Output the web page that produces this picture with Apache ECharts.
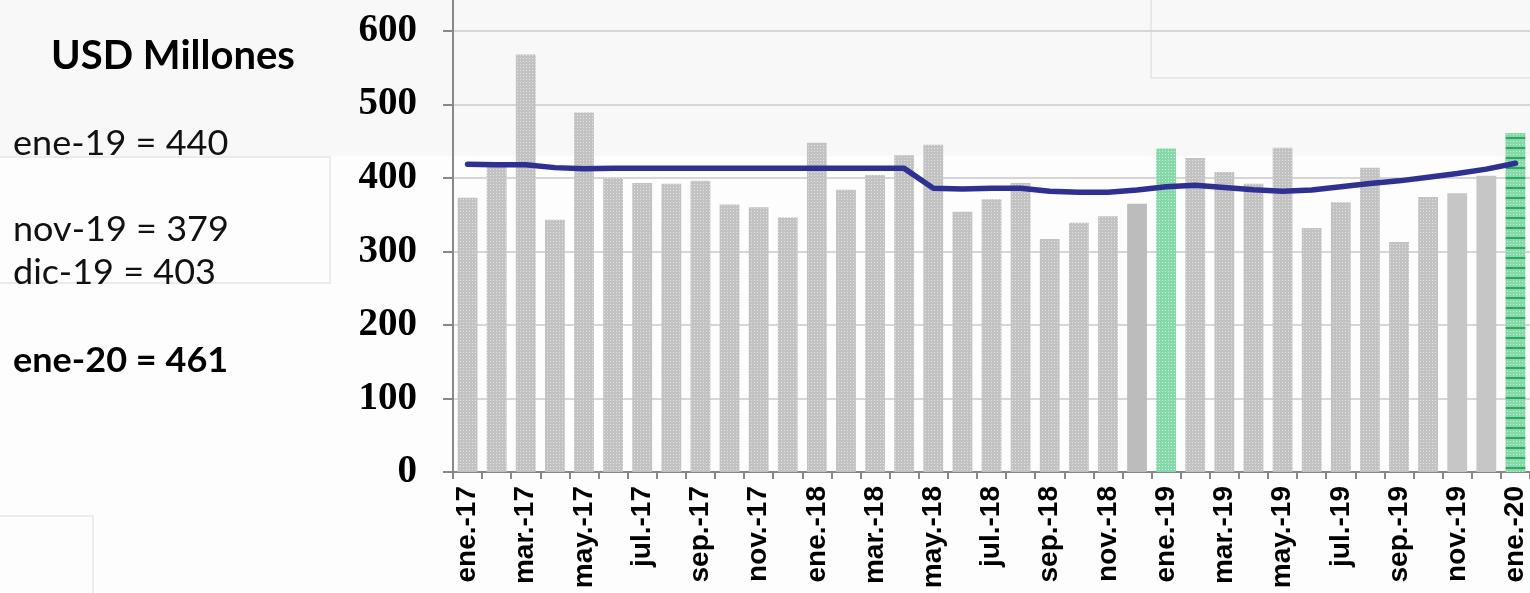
<!DOCTYPE html>
<html>
<head>
<meta charset="utf-8">
<script src="https://cdn.jsdelivr.net/npm/echarts@6/dist/echarts.min.js"></script>
<style>
html,body{margin:0;padding:0;background:#fdfdfd;}
#chart{width:1530px;height:593px;}
</style>
</head>
<body>
<div id="chart"></div>
<script>
// ---- data ----
var categories = ['ene.-17','feb.-17','mar.-17','abr.-17','may.-17','jun.-17','jul.-17','ago.-17','sep.-17','oct.-17','nov.-17','dic.-17',
                  'ene.-18','feb.-18','mar.-18','abr.-18','may.-18','jun.-18','jul.-18','ago.-18','sep.-18','oct.-18','nov.-18','dic.-18',
                  'ene.-19','feb.-19','mar.-19','abr.-19','may.-19','jun.-19','jul.-19','ago.-19','sep.-19','oct.-19','nov.-19','dic.-19',
                  'ene.-20'];
var monthlyValues = [373, 415, 568, 343, 489, 400, 393, 392, 396, 364, 360, 346,
                     448, 384, 404, 431, 445, 354, 371, 393, 317, 339, 348, 365,
                     440, 427, 408, 392, 441, 332, 367, 414, 313, 374, 379, 403,
                     461];
var trendValues = [418.6, 418, 418, 414, 412.5, 413, 413, 413, 413, 413, 413, 413,
                   413, 413, 413, 413, 386, 385, 386, 386, 382, 380.5, 380.5, 383.5,
                   388, 390, 387, 384, 382, 383.5, 388, 392.5, 396, 401, 406, 412,
                   420];
var yTicks = [0, 100, 200, 300, 400, 500, 600];
var noteLines = ['ene-19 = 440', 'nov-19 = 379', 'dic-19 = 403'];
var noteBold = 'ene-20 = 461';
var unitTitle = 'USD Millones';

// ---- patterns ----
function dotPattern(base, dot) {
  var c = document.createElement('canvas');
  c.width = 3; c.height = 3;
  var g = c.getContext('2d');
  g.fillStyle = base; g.fillRect(0, 0, 3, 3);
  g.fillStyle = dot; g.fillRect(1, 1, 1, 1);
  return c;
}
function linePattern(base, dot, line) {
  var c = document.createElement('canvas');
  c.width = 3; c.height = 10;
  var g = c.getContext('2d');
  g.fillStyle = base; g.fillRect(0, 0, 3, 10);
  g.fillStyle = dot; g.fillRect(1, 1, 1, 1); g.fillRect(1, 4, 1, 1);
  g.fillStyle = line; g.fillRect(0, 7, 3, 2);
  return c;
}
var grayPat = {image: dotPattern('#c2c2c2', '#e2e2e2'), repeat: 'repeat'};
var greenPat = {image: dotPattern('#86d8a8', '#c8f0d8'), repeat: 'repeat'};
var greenLinePat = {image: linePattern('#86d8a8', '#c8f0d8', '#2aa860'), repeat: 'repeat'};

var styleByIndex = {23: '#bcbcbc', 24: greenPat, 34: '#c6c6c6', 35: '#c6c6c6', 36: greenLinePat};
var barData = monthlyValues.map(function (v, i) {
  return {value: v, itemStyle: {color: styleByIndex[i] || grayPat}};
});

var chart = echarts.init(document.getElementById('chart'), null, {renderer: 'canvas'});
var textFont = 'Lato';
chart.setOption({
  animation: false,
  backgroundColor: '#fdfdfd',
  grid: {left: 453, right: 0, top: 0, bottom: 121, containLabel: false},
  xAxis: {
    type: 'category',
    data: categories,
    boundaryGap: true,
    axisLine: {lineStyle: {color: '#888888', width: 2}},
    axisTick: {show: true, length: 7, lineStyle: {color: '#888888', width: 2}, interval: 0},
    axisLabel: {
      interval: 1, rotate: 90, margin: 14,
      fontFamily: 'Liberation Sans', fontWeight: 'bold', fontSize: 28, color: '#000'
    },
    splitLine: {show: false}
  },
  yAxis: {
    type: 'value',
    min: yTicks[0], max: 642, interval: 100,
    axisLine: {show: true, lineStyle: {color: '#888888', width: 2}},
    axisTick: {show: true, length: 10, lineStyle: {color: '#888888', width: 2}},
    axisLabel: {
      showMaxLabel: false, margin: 36,
      fontFamily: 'Liberation Serif', fontWeight: 'bold', fontSize: 39, color: '#000'
    },
    splitLine: {show: true, showMaxLine: false, lineStyle: {color: '#d6d6d6', width: 2}}
  },
  series: [
    {
      type: 'bar',
      data: barData,
      barWidth: '68%',
      z: 2
    },
    {
      type: 'line',
      data: trendValues,
      symbol: 'none',
      smooth: false,
      lineStyle: {color: '#2e3192', width: 5.5, cap: 'round', join: 'round'},
      z: 5
    }
  ],
  graphic: [
    {type: 'rect', z: -100, silent: true, shape: {x: 0, y: 0, width: 1530, height: 156}, style: {fill: '#f8f8f8'}},
    {type: 'rect', z: -99, silent: true, shape: {x: -5, y: 157, width: 335, height: 126}, style: {fill: 'none', stroke: '#ebebeb', lineWidth: 2}},
    {type: 'rect', z: -99, silent: true, shape: {x: 1151, y: -5, width: 400, height: 83}, style: {fill: 'none', stroke: '#e8e8e8', lineWidth: 2}},
    {type: 'rect', z: -99, silent: true, shape: {x: -5, y: 516, width: 98, height: 100}, style: {fill: 'none', stroke: '#ececec', lineWidth: 2}},
    {type: 'text', z: 100, x: 173, y: 56, style: {text: unitTitle, font: 'bold 40px ' + textFont, fill: '#000', textAlign: 'center', textVerticalAlign: 'middle'}},
    {type: 'text', z: 100, x: 13, y: 144, scaleX: 1.06, style: {text: noteLines[0], font: '34px ' + textFont, fill: '#111', textAlign: 'left', textVerticalAlign: 'middle'}},
    {type: 'text', z: 100, x: 13, y: 230, scaleX: 1.06, style: {text: noteLines[1], font: '34px ' + textFont, fill: '#111', textAlign: 'left', textVerticalAlign: 'middle'}},
    {type: 'text', z: 100, x: 13, y: 273, scaleX: 1.06, style: {text: noteLines[2], font: '34px ' + textFont, fill: '#111', textAlign: 'left', textVerticalAlign: 'middle'}},
    {type: 'text', z: 100, x: 13, y: 361, scaleX: 1.06, style: {text: noteBold, font: 'bold 34px ' + textFont, fill: '#000', textAlign: 'left', textVerticalAlign: 'middle'}}
  ]
});
</script>
</body>
</html>
